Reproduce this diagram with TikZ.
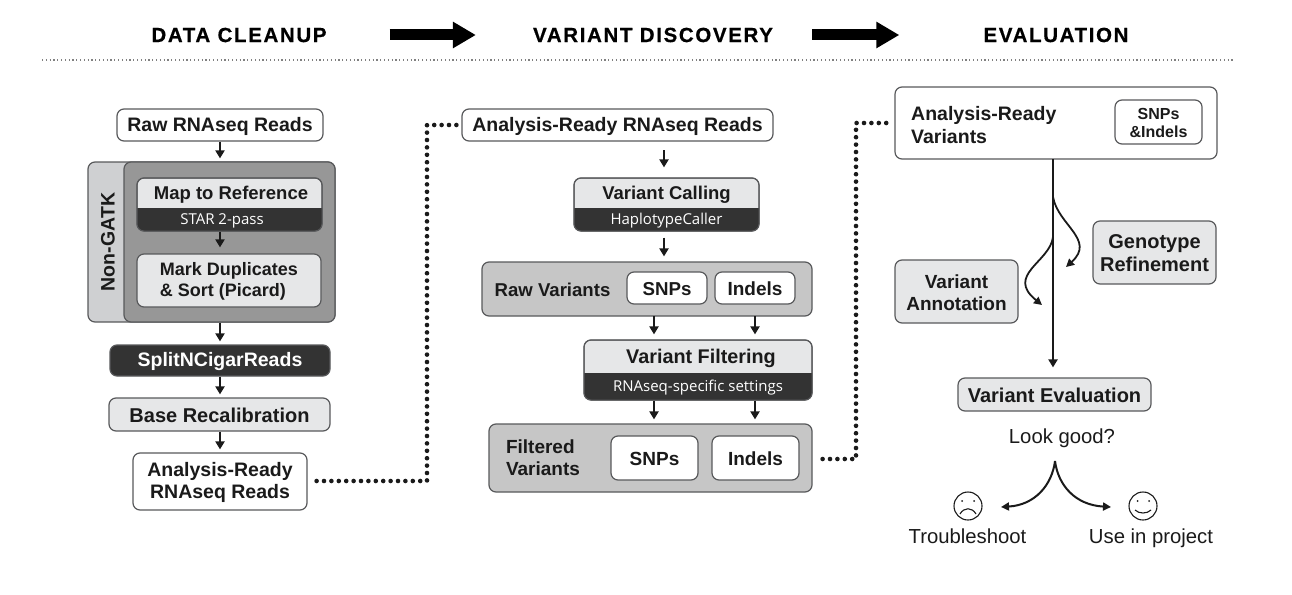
\documentclass[tikz,border=0pt]{standalone}
\usepackage{fontspec}
\setmainfont{Liberation Sans}
\newfontfamily\subfont{Open Sans}
\usetikzlibrary{arrows.meta}
\definecolor{edge}{HTML}{58595B}
\definecolor{lightf}{HTML}{E6E7E8}
\definecolor{paleside}{HTML}{CFD0D2}
\definecolor{midf}{HTML}{C6C6C6}
\definecolor{innerf}{HTML}{979797}
\definecolor{darkf}{HTML}{333333}
\definecolor{ink}{HTML}{1A1A1A}
\newcommand{\fsz}[1]{\pgfmathsetmacro{\bsk}{#1*1.14}\fontsize{#1}{\bsk}\selectfont}
\newcommand{\mybox}[7]{% style,name,x1,y1,x2,y2,text
  \pgfmathsetmacro{\cxx}{(#3+#5)/2}\pgfmathsetmacro{\cyy}{(#4+#6)/2}
  \pgfmathsetmacro{\wdd}{#5-#3}\pgfmathsetmacro{\htt}{#6-#4}
  \node[#1,minimum width=\wdd pt,minimum height=\htt pt] (#2) at (\cxx,\cyy) {};
  \if\relax\detokenize{#7}\relax\else
  \node[#1,draw=none,fill=none,rounded corners=0pt] (#2t) at ([yshift=-1pt]#2.center) {#7};\fi}
\newcommand{\splitbox}[9]{% name,x1,y1,x2,y2,ysplit,subsize,top,sub
  \mybox{lightbox}{#1}{#2}{#3}{#4}{#5}{}
  \begin{scope}
    \clip (#2-2,#6) rectangle (#4+2,#5+2);
    \fill[darkf,rounded corners=7pt] (#2,#3) rectangle (#4,#5);
  \end{scope}
  \draw[edge,line width=1pt,rounded corners=7pt] (#2,#3) rectangle (#4,#5);
  \pgfmathsetmacro{\cxx}{(#2+#4)/2}
  \pgfmathsetmacro{\tyy}{(#3+#6)/2+2}\pgfmathsetmacro{\byy}{(#5+#6)/2+1}
  \node[btext] (#1t) at (\cxx,\tyy) {#8};
  \node[text=white,inner sep=0pt,font=\subfont\fsz{#7}] (#1s) at (\cxx,\byy) {#9};}
\tikzset{
  basebox/.style={draw=edge,line width=1.2pt,rounded corners=7pt,inner sep=0pt,align=center},
  whitebox/.style={basebox,fill=white,text=ink,font=\bfseries\fsz{19.5}},
  lightbox/.style={basebox,fill=lightf,text=ink,font=\bfseries\fsz{19.5}},
  midbox/.style={basebox,fill=midf,text=ink,font=\bfseries\fsz{17.5}},
  darkbox/.style={basebox,fill=darkf,text=white,font=\bfseries\fsz{19.5}},
  btext/.style={inner sep=0pt,text=ink,font=\bfseries\fsz{18.5},align=center},
  plain/.style={inner sep=0pt,text=ink,font=\fsz{20.3}},
  title/.style={inner sep=0pt,text=black,font=\bfseries\fsz{20.5}\addfontfeatures{LetterSpace=8,FakeBold=0.6}},
  flow/.style={draw=ink,line width=2.2pt,-{Triangle[length=8pt,width=9pt]}},
  bigarrow/.style={draw=black,line width=11pt,-{Triangle[length=23pt,width=25pt]}},
  dots/.style={draw=ink,line width=4.6pt,line cap=round,dash pattern=on 0pt off 7.4pt},
  face/.style={circle,draw=ink,line width=1.1pt,minimum size=28pt,inner sep=0pt},
}
\begin{document}
\begin{tikzpicture}[x=1pt,y=-1pt]
\useasboundingbox (0,0) rectangle (1292,594);
% titles
\node[title] (t1) at (239,35) {DATA CLEANUP};
\node[title] (t2) at (653,35) {VARIANT DISCOVERY};
\node[title] (t3) at (1056,35) {EVALUATION};
\draw[bigarrow,shorten <=63pt,shorten >=57pt] (t1.east) -- (t2.west);
\draw[bigarrow,shorten <=39pt,shorten >=84pt] (t2.east) -- (t3.west);
\coordinate (ruleA) at (42,60);
\coordinate (ruleB) at (1235,60);
\draw[black!50,line width=1.1pt,dash pattern=on 1.2pt off 2.6pt] (ruleA) -- (ruleB);
% left column
\mybox{whitebox}{raw}{117}{109}{323}{141}{Raw RNAseq Reads}
\mybox{basebox,fill=paleside}{outer}{88}{162}{335}{322}{}
\mybox{basebox,fill=innerf}{inner}{124}{162}{335}{322}{}
\node[btext,rotate=90,font=\bfseries\fsz{19.5}] (nong) at (108,242) {Non-GATK};
\splitbox{map}{137}{178}{322}{231}{208}{15}{\hspace*{3pt}Map to Reference}{\hspace*{-15pt}STAR 2-pass}
\mybox{lightbox,font=\bfseries\fsz{18},align=left}{mark}{137}{254}{321}{307}{Mark Duplicates\\\& Sort (Picard)}
\mybox{darkbox}{split}{110}{345}{330}{376}{SplitNCigarReads}
\mybox{lightbox,font=\bfseries\fsz{20}}{base}{109}{398}{330}{431}{Base Recalibration}
\mybox{whitebox}{ready}{133}{453}{307}{510}{Analysis-Ready\\RNAseq Reads}
\draw[flow,shorten >=3pt] (raw.south) -- (raw.south |- outer.north);
\draw[flow,shorten >=6pt] (raw.south |- map.south) -- (raw.south |- mark.north);
\draw[flow,shorten >=3pt] (raw.south |- outer.south) -- (raw.south |- split.north);
\draw[flow,shorten >=3pt] (raw.south |- split.south) -- (raw.south |- base.north);
\draw[flow,shorten >=3pt] (raw.south |- base.south) -- (raw.south |- ready.north);
% middle column
\mybox{whitebox}{mready}{462}{109}{773}{141}{Analysis-Ready RNAseq Reads}
\splitbox{call}{574}{178}{759}{231}{208}{15}{Variant Calling}{HaplotypeCaller}
\mybox{midbox}{rawv}{482}{262}{812}{316}{}
\node[btext,font=\bfseries\fsz{18.6}] (rawvt) at (552.5,289.5) {Raw Variants};
\mybox{whitebox,font=\bfseries\fsz{18.7}}{rsnp}{627}{272}{707}{304}{SNPs}
\mybox{whitebox,font=\bfseries\fsz{19}}{rind}{715}{272}{795}{304}{Indels}
\splitbox{filt}{584}{340}{812}{400}{373}{15}{\fsz{19.8}\hspace*{6pt}Variant Filtering}{RNAseq-specific settings}
\mybox{midbox}{fv}{489}{424}{812}{492}{}
\node[btext,font=\bfseries\fsz{19},align=left] (fvt) at (543,458) {Filtered\\Variants};
\mybox{whitebox,font=\bfseries\fsz{19}}{fsnp}{611}{436}{698}{480}{SNPs}
\mybox{whitebox,font=\bfseries\fsz{19}}{find}{712}{436}{799}{480}{Indels}
\coordinate (c0) at (664,141);
\draw[flow,shorten <=9pt,shorten >=10pt] (c0) -- (c0 |- call.north);
\draw[flow,shorten <=6pt,shorten >=5pt] (c0 |- call.south) -- (c0 |- rawv.north);
\coordinate (c1) at (654,316);
\coordinate (c2) at (755,316);
\draw[flow,shorten >=5pt] (c1) -- (c1 |- filt.north);
\draw[flow,shorten >=5pt] (c2) -- (c2 |- filt.north);
\draw[flow,shorten >=4pt] (c1 |- filt.south) -- (c1 |- fv.north);
\draw[flow,shorten >=4pt] (c2 |- filt.south) -- (c2 |- fv.north);
% right column
\mybox{whitebox}{arv}{895}{87}{1217}{159}{}
\node[inner sep=0pt,text=ink,font=\bfseries\fsz{19.5},align=left,anchor=west] (arvt) at (911,125) {Analysis-Ready\\Variants};
\mybox{whitebox,font=\bfseries\fsz{16}}{sni}{1115}{100}{1202}{144}{SNPs\\\&Indels}
\mybox{lightbox,font=\bfseries\fsz{20}}{geno}{1093}{221}{1216}{284}{Genotype\\Refinement}
\mybox{lightbox,font=\bfseries\fsz{19}}{anno}{895}{260}{1018}{323}{Variant\\Annotation}
\mybox{lightbox,font=\bfseries\fsz{20}}{eval}{958}{378}{1151}{411}{Variant Evaluation}
\node[plain,anchor=base] (look) at (1062,443) {Look good?};
\node[face] (sad) at (968,506) {};
\node[face] (happy) at (1143,506) {};
\node[plain,anchor=base] (tr) at (967.5,543) {Troubleshoot};
\node[plain,anchor=base] (use) at (1151,543) {Use in project};
% faces
\fill[ink] (962,501) circle (1pt) (974,501) circle (1pt);
\draw[ink,line width=1.1pt] (960,514) .. controls (964,507) and (972,507) .. (976,514);
\fill[ink] (1137.5,501) circle (1pt) (1149,501) circle (1pt);
\draw[ink,line width=1.1pt] (1135,510) .. controls (1139,514) and (1147,514) .. (1151,510);
% right arrows
\coordinate (sp) at (1053,159);
\draw[flow,shorten >=10pt,line width=2.4pt] (sp) -- (sp |- eval.north);
\coordinate (g0) at (1053,197);
\coordinate (g1) at (1066,267);
\coordinate (a0) at (1053,237);
\coordinate (a1) at (1042,305);
\draw[draw=ink,line width=1.8pt,-{Triangle[length=8pt,width=8pt]}] (g0) .. controls (1058,225) and (1096,240) .. (g1);
\draw[draw=ink,line width=1.8pt,-{Triangle[length=8pt,width=8pt]}] (a0) .. controls (1050,262) and (1005,275) .. (a1);
\coordinate (l0) at (1055,461);
\coordinate (l1) at (1001,507);
\coordinate (l2) at (1111,507);
\draw[draw=ink,line width=2pt,-{Triangle[length=8pt,width=8pt]}] (l0) .. controls (1052,485) and (1035,505) .. (l1);
\draw[draw=ink,line width=2pt,-{Triangle[length=8pt,width=8pt]}] (l0) .. controls (1058,485) and (1075,505) .. (l2);
% dotted connectors
\coordinate (d1) at (427,481);
\coordinate (d2) at (856,459);
\draw[dots] (ready.east |- d1) ++(9,0) -- (d1) -- (d1 |- mready.west) -- ([xshift=-4pt]mready.west);
\draw[dots] (fv.east |- d2) ++(10,0) -- (d2) -- (d2 |- arv.west) -- ([xshift=-4pt]arv.west);
\end{tikzpicture}
\end{document}
